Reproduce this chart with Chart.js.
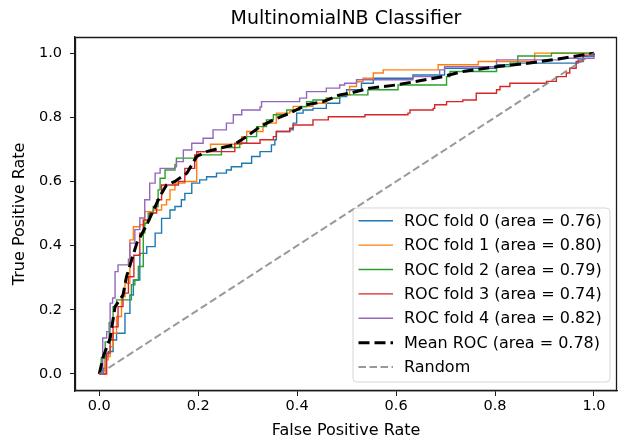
<!DOCTYPE html>
<html>
<head>
<meta charset="utf-8">
<script src="https://cdn.jsdelivr.net/npm/chart.js@4.4.0/dist/chart.umd.min.js"></script>
<style>
html,body{margin:0;padding:0;background:#fff;}
#wrap{width:621px;height:441px;position:relative;}
</style>
</head>
<body>
<div id="wrap"><canvas id="c" width="621" height="441"></canvas></div>
<script>
// ---- data ----
const chartTitle = 'MultinomialNB Classifier';
const xLabel = 'False Positive Rate';
const yLabel = 'True Positive Rate';
const xTicks = [0, 0.2, 0.4, 0.6, 0.8, 1.0];
const yTicks = [0, 0.2, 0.4, 0.6, 0.8, 1.0];
const foldAucs = [0.76, 0.80, 0.79, 0.74, 0.82];
const meanAuc = 0.78;

const fold0Fpr = [0,0.008,0.012,0.018,0.028,0.035,0.052,0.062,0.069,0.082,0.096,0.113,0.126,0.143,0.153,0.166,0.173,0.187,0.203,0.217,0.237,0.257,0.267,0.288,0.308,0.325,0.348,0.355,0.358,0.385,0.392,0.399,0.412,0.432,0.459,0.486,0.500,0.530,0.554,0.634,0.698,0.803,0.843,0.968,0.978,1.0];
const fold0Tpr = [0,0.018,0.054,0.070,0.106,0.127,0.189,0.246,0.293,0.376,0.397,0.439,0.485,0.511,0.522,0.543,0.563,0.595,0.605,0.615,0.626,0.636,0.646,0.657,0.678,0.693,0.714,0.730,0.756,0.761,0.782,0.813,0.823,0.828,0.844,0.865,0.886,0.906,0.922,0.932,0.953,0.964,0.969,0.979,0.990,1.0];

const fold1Fpr = [0,0.012,0.018,0.022,0.028,0.035,0.045,0.052,0.062,0.069,0.082,0.092,0.109,0.126,0.136,0.143,0.153,0.173,0.197,0.200,0.225,0.271,0.288,0.298,0.331,0.358,0.385,0.392,0.432,0.459,0.486,0.506,0.520,0.533,0.554,0.574,0.685,0.766,0.880,1.0];
const fold1Tpr = [0,0.044,0.054,0.085,0.127,0.179,0.241,0.283,0.418,0.459,0.465,0.506,0.511,0.527,0.543,0.574,0.595,0.600,0.678,0.693,0.716,0.716,0.740,0.756,0.782,0.813,0.818,0.834,0.844,0.860,0.870,0.896,0.911,0.922,0.938,0.948,0.964,0.974,1.0,1.0];

const fold2Fpr = [0,0.004,0.012,0.020,0.028,0.035,0.065,0.072,0.079,0.089,0.092,0.099,0.109,0.119,0.123,0.133,0.153,0.156,0.197,0.247,0.284,0.298,0.318,0.338,0.352,0.379,0.405,0.419,0.432,0.459,0.486,0.543,0.604,0.702,0.709,0.803,0.830,0.846,0.914,1.0];
const fold2Tpr = [0,0.050,0.100,0.160,0.210,0.231,0.278,0.293,0.335,0.439,0.470,0.501,0.522,0.574,0.610,0.636,0.652,0.673,0.683,0.706,0.719,0.740,0.771,0.792,0.808,0.823,0.833,0.849,0.854,0.860,0.870,0.886,0.901,0.927,0.943,0.958,0.969,0.991,1.0,1.0];

const fold3Fpr = [0,0.015,0.022,0.028,0.038,0.048,0.059,0.070,0.082,0.089,0.102,0.116,0.126,0.160,0.173,0.193,0.197,0.271,0.274,0.318,0.325,0.352,0.358,0.385,0.392,0.432,0.463,0.537,0.624,0.628,0.675,0.678,0.702,0.735,0.762,0.803,0.810,0.830,0.897,0.904,0.924,0.944,0.951,0.964,0.978,1.0];
const fold3Tpr = [0,0.065,0.106,0.147,0.210,0.252,0.303,0.370,0.439,0.480,0.502,0.543,0.589,0.600,0.641,0.683,0.693,0.693,0.719,0.719,0.730,0.740,0.756,0.766,0.776,0.792,0.802,0.808,0.813,0.823,0.828,0.839,0.849,0.854,0.875,0.886,0.896,0.906,0.906,0.912,0.927,0.938,0.953,0.974,0.994,1.0];

const fold4Fpr = [0,0.007,0.015,0.022,0.027,0.032,0.038,0.059,0.062,0.072,0.082,0.092,0.102,0.113,0.123,0.153,0.156,0.170,0.187,0.210,0.230,0.257,0.271,0.288,0.325,0.328,0.405,0.419,0.459,0.486,0.496,0.520,0.634,0.688,0.698,0.803,0.931,1.0];
const fold4Tpr = [0,0.112,0.132,0.221,0.237,0.319,0.340,0.358,0.408,0.450,0.486,0.543,0.595,0.626,0.641,0.646,0.662,0.698,0.719,0.735,0.761,0.782,0.808,0.823,0.832,0.849,0.860,0.880,0.891,0.901,0.906,0.917,0.927,0.948,0.958,0.979,0.984,1.0];

const meanFpr = [0,0.008,0.022,0.032,0.048,0.055,0.076,0.096,0.116,0.126,0.136,0.153,0.177,0.197,0.217,0.244,0.271,0.298,0.325,0.352,0.385,0.419,0.453,0.486,0.506,0.547,0.601,0.695,0.735,0.803,0.870,0.937,1.0];
const meanTpr = [0,0.054,0.111,0.210,0.246,0.303,0.408,0.465,0.532,0.563,0.589,0.600,0.626,0.678,0.693,0.704,0.714,0.740,0.771,0.792,0.813,0.839,0.849,0.870,0.875,0.891,0.901,0.927,0.943,0.958,0.969,0.984,1.0];

const randomFpr = [0, 1];
const randomTpr = [0, 1];

// ---- build chart ----
const foldColors = ['#1f77b4', '#ff7f0e', '#2ca02c', '#d62728', '#9467bd'];
const foldFprs = [fold0Fpr, fold1Fpr, fold2Fpr, fold3Fpr, fold4Fpr];
const foldTprs = [fold0Tpr, fold1Tpr, fold2Tpr, fold3Tpr, fold4Tpr];
const pts = (f, t) => f.map((x, i) => ({x: x, y: t[i]}));

const datasets = [];
foldFprs.forEach((f, i) => {
  datasets.push({
    label: 'ROC fold ' + i + ' (area = ' + foldAucs[i].toFixed(2) + ')',
    data: pts(f, foldTprs[i]),
    borderColor: foldColors[i],
    borderWidth: 1.4,
    stepped: 'before',
    pointRadius: 0,
    fill: false,
    order: 10 - i
  });
});
datasets.push({
  label: 'Mean ROC (area = ' + meanAuc.toFixed(2) + ')',
  data: pts(meanFpr, meanTpr),
  borderColor: '#000000',
  borderWidth: 3,
  borderDash: [11, 5],
  pointRadius: 0,
  tension: 0,
  fill: false,
  order: 2
});
datasets.push({
  label: 'Random',
  data: pts(randomFpr, randomTpr),
  borderColor: 'rgba(128,128,128,0.8)',
  borderWidth: 2,
  borderDash: [7.5, 3.5],
  pointRadius: 0,
  fill: false,
  order: 1
});

const FONT = '"DejaVu Sans", "Liberation Sans", sans-serif';

const framePlugin = {
  id: 'frame',
  afterDraw(chart) {
    const ctx = chart.ctx;
    const a = chart.chartArea;
    ctx.save();
    ctx.setLineDash([]);
    ctx.strokeStyle = '#1a1a1a';
    ctx.lineWidth = 1.3;
    const L = Math.round(a.left) + 0.5, T = Math.round(a.top) + 0.5;
    const R = Math.round(a.right) - 0.5, B = Math.round(a.bottom) - 0.5;
    ctx.beginPath();
    ctx.moveTo(L, B);
    ctx.lineTo(L, T);
    ctx.lineTo(R, T);
    ctx.lineTo(R, B);
    ctx.lineTo(L, B);
    ctx.closePath();
    ctx.stroke();
    // legend
    const w = 257, h = 174;
    const x0 = a.right - 7 - w, y0 = a.bottom - 9 - h;
    const r = 4;
    ctx.beginPath();
    ctx.moveTo(x0 + r, y0);
    ctx.lineTo(x0 + w - r, y0);
    ctx.quadraticCurveTo(x0 + w, y0, x0 + w, y0 + r);
    ctx.lineTo(x0 + w, y0 + h - r);
    ctx.quadraticCurveTo(x0 + w, y0 + h, x0 + w - r, y0 + h);
    ctx.lineTo(x0 + r, y0 + h);
    ctx.quadraticCurveTo(x0, y0 + h, x0, y0 + h - r);
    ctx.lineTo(x0, y0 + r);
    ctx.quadraticCurveTo(x0, y0, x0 + r, y0);
    ctx.closePath();
    ctx.fillStyle = 'rgba(255,255,255,0.8)';
    ctx.fill();
    ctx.strokeStyle = 'rgba(204,204,204,0.8)';
    ctx.lineWidth = 1;
    ctx.stroke();
    chart.data.datasets.forEach((ds, i) => {
      const yc = y0 + 12.7 + i * 24.4;
      ctx.beginPath();
      ctx.setLineDash(ds.borderDash || []);
      ctx.lineWidth = ds.borderWidth;
      ctx.strokeStyle = ds.borderColor;
      ctx.moveTo(x0 + 5.5, yc);
      ctx.lineTo(x0 + 40, yc);
      ctx.stroke();
      ctx.setLineDash([]);
      ctx.fillStyle = '#000';
      ctx.font = '16px ' + FONT;
      ctx.textBaseline = 'middle';
      ctx.textAlign = 'left';
      ctx.fillText(ds.label, x0 + 51, yc + 1);
    });
    ctx.restore();
  }
};

new Chart(document.getElementById('c'), {
  type: 'line',
  data: {datasets: datasets},
  plugins: [framePlugin],
  options: {
    responsive: false,
    animation: false,
    devicePixelRatio: 1,
    layout: {padding: {left: 0, right: 4, top: 0, bottom: 0}},
    plugins: {
      legend: {display: false},
      tooltip: {enabled: false},
      title: {
        display: true,
        text: chartTitle,
        fullSize: false,
        color: '#000',
        font: {family: FONT, size: 19, weight: 'normal'},
        padding: {top: 8, bottom: 6}
      }
    },
    scales: {
      x: {
        type: 'linear',
        min: -0.049,
        max: 1.0465,
        afterFit: (s) => { s.height = 50; },
        afterBuildTicks: (s) => { s.ticks = xTicks.map(v => ({value: v})); },
        grid: {drawOnChartArea: false, tickLength: 5, color: '#1a1a1a', tickColor: '#1a1a1a'},
        border: {color: '#1a1a1a', width: 1.3},
        ticks: {
          padding: 2,
          color: '#000',
          font: {family: FONT, size: 14.5},
          maxRotation: 0,
          callback: (v) => Number(v).toFixed(1)
        },
        title: {display: true, text: xLabel, color: '#000', font: {family: FONT, size: 16}, padding: {top: 0, bottom: 1}}
      },
      y: {
        type: 'linear',
        min: -0.053,
        max: 1.051,
        afterFit: (s) => { s.width = 75; },
        afterBuildTicks: (s) => { s.ticks = yTicks.map(v => ({value: v})); },
        grid: {drawOnChartArea: false, tickLength: 5, color: '#1a1a1a', tickColor: '#1a1a1a'},
        border: {color: '#1a1a1a', width: 1.3},
        ticks: {
          padding: 8,
          color: '#000',
          font: {family: FONT, size: 14.5},
          callback: (v) => Number(v).toFixed(1)
        },
        title: {display: true, text: yLabel, color: '#000', font: {family: FONT, size: 16}, padding: {top: 10, bottom: 0}}
      }
    }
  }
});
</script>
</body>
</html>
